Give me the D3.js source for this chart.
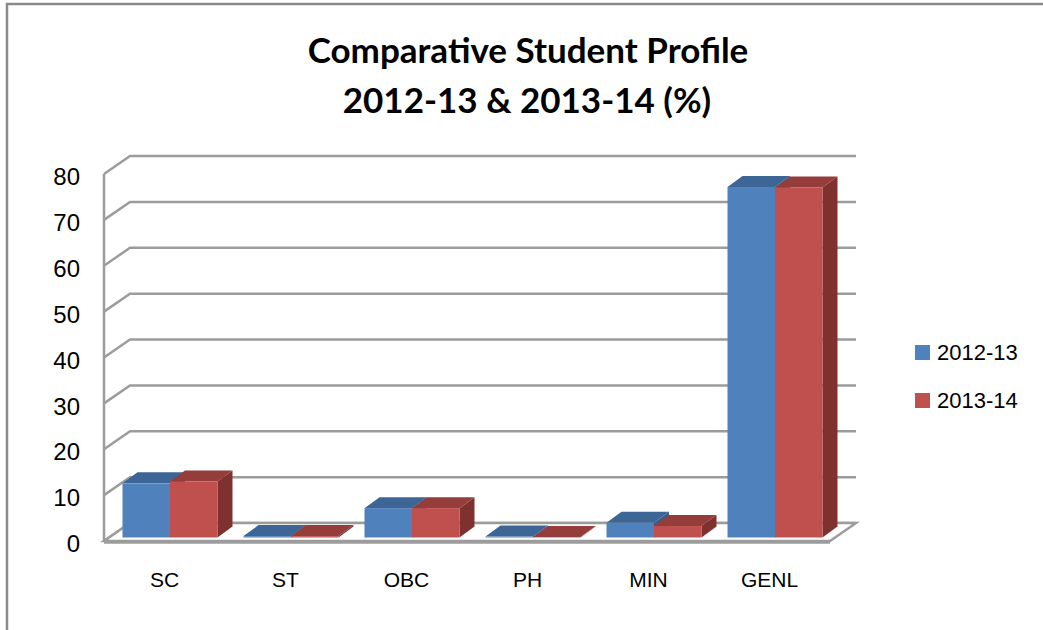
<!DOCTYPE html>
<html>
<head>
<meta charset="utf-8">
<script src="https://cdn.jsdelivr.net/npm/d3@7"></script>
<style>
  body { margin: 0; background: #fff; }
  text { font-family: "Liberation Sans", Arial, sans-serif; fill: #000; }
  .title { font-family: Lato, "Liberation Sans", sans-serif; font-weight: bold; font-size: 35px; }
</style>
</head>
<body>
<svg width="1043" height="630"></svg>
<script>
var categories = ["SC", "ST", "OBC", "PH", "MIN", "GENL"];
var seriesNames = ["2012-13", "2013-14"];
var values2012 = [11.8, 0.3, 6.4, 0.2, 3.2, 76.4];
var values2013 = [12.2, 0.3, 6.4, 0.1, 2.5, 76.3];
var yTicks = [0, 10, 20, 30, 40, 50, 60, 70, 80];

var svg = d3.select("svg");

// colours for front / top / side of each series
var faces = {
    "2012-13": { front: "#4F81BD", top: "#3D6596", side: "#385D8A" },
    "2013-14": { front: "#C0504D", top: "#953D3A", side: "#7E312F" }
};

// outer chart border (left and top visible)
svg.append("path")
    .attr("d", "M7,630 L7,4 L1043,4")
    .attr("fill", "none")
    .attr("stroke", "#8a8a8a")
    .attr("stroke-width", 2.5);

// plot geometry
const plotLeft = 104, plotRight = 830, plotBottom = 541, plotTop = 174;
const depthX = 26, depthY = 18;   // wall depth
const barDX = 15, barDY = 11;     // bar depth

var y = d3.scaleLinear().domain([0, 80]).range([plotBottom, plotTop]);
var x0 = d3.scaleBand().domain(categories).range([plotLeft, plotRight])
    .paddingInner(0.215).paddingOuter(0.1075);
var x1 = d3.scaleBand().domain(seriesNames).range([0, x0.bandwidth()]);

const gridColor = "#9c9c9c";

// side wall + back wall gridlines
var grid = svg.append("g");
yTicks.forEach(function (t) {
    grid.append("path")
        .attr("d", "M" + plotLeft + "," + y(t) +
            " L" + (plotLeft + depthX) + "," + (y(t) - depthY) +
            " L" + (plotRight + depthX) + "," + (y(t) - depthY))
        .attr("fill", "none")
        .attr("stroke", gridColor)
        .attr("stroke-width", 2.5);
});
grid.append("line")
    .attr("x1", plotLeft).attr("x2", plotLeft)
    .attr("y1", y(80)).attr("y2", y(0))
    .attr("stroke", gridColor)
    .attr("stroke-width", 2.5);

// floor
svg.append("polygon")
    .attr("points", [[plotLeft, y(0)], [plotRight, y(0)], [plotRight + depthX, y(0) - depthY], [plotLeft + depthX, y(0) - depthY]].join(" "))
    .attr("fill", "#fff")
    .attr("stroke", gridColor)
    .attr("stroke-width", 2.5);
svg.append("line")
    .attr("x1", plotLeft).attr("x2", plotRight)
    .attr("y1", y(0) + 1).attr("y2", y(0) + 1)
    .attr("stroke", gridColor)
    .attr("stroke-width", 3.5);

// bars
const offX = (depthX - barDX) / 2, offY = (depthY - barDY) / 2;
var bars = svg.append("g");
categories.forEach(function (c, i) {
    [values2012[i], values2013[i]].forEach(function (v, j) {
        var s = seriesNames[j];
        var bx = x0(c) + x1(s) + offX;
        var w = x1.bandwidth();
        var yt = y(v) - offY;
        var yb = y(0) - offY;
        bars.append("polygon")
            .attr("points", [[bx + w, yt], [bx + w + barDX, yt - barDY], [bx + w + barDX, yb - barDY], [bx + w, yb]].join(" "))
            .attr("fill", faces[s].side);
        bars.append("polygon")
            .attr("points", [[bx, yt], [bx + w, yt], [bx + w + barDX, yt - barDY], [bx + barDX, yt - barDY]].join(" "))
            .attr("fill", faces[s].top);
        bars.append("rect")
            .attr("x", bx).attr("y", yt)
            .attr("width", w).attr("height", yb - yt)
            .attr("fill", faces[s].front);
    });
});

// y axis labels
var yAxis = svg.append("g")
    .attr("transform", "translate(81,3)")
    .call(d3.axisLeft(y).tickValues(yTicks).tickSize(0).tickPadding(1));
yAxis.select(".domain").remove();
yAxis.selectAll("text")
    .style("font-family", "'Liberation Sans', Arial, sans-serif")
    .style("font-size", "24px");

// category labels
var xAxis = svg.append("g")
    .attr("transform", "translate(0,572)")
    .call(d3.axisBottom(x0).tickSize(0).tickPadding(0));
xAxis.select(".domain").remove();
xAxis.selectAll("text")
    .style("font-family", "'Liberation Sans', Arial, sans-serif")
    .style("font-size", "21px");

// title
svg.append("text")
    .attr("class", "title")
    .attr("x", 528).attr("y", 63)
    .attr("text-anchor", "middle")
    .text("Comparative Student Profile");
svg.append("text")
    .attr("class", "title")
    .attr("x", 527).attr("y", 113)
    .attr("text-anchor", "middle")
    .text("2012-13 & 2013-14 (%)");

// legend
const legendX = 915, legendY = 345;
seriesNames.forEach(function (s, i) {
    svg.append("rect")
        .attr("x", legendX).attr("y", legendY + 48 * i)
        .attr("width", 15).attr("height", 15)
        .attr("fill", faces[s].front);
    svg.append("text")
        .attr("x", legendX + 22).attr("y", legendY + 48 * i + 15)
        .style("font-size", "22px")
        .text(s);
});
</script>
</body>
</html>
